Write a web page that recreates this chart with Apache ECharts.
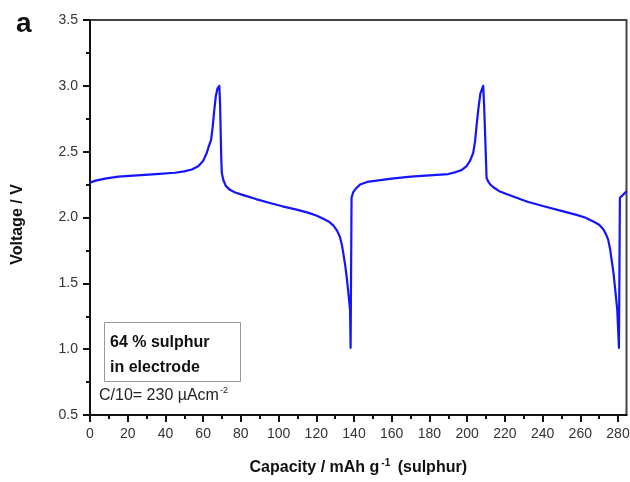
<!DOCTYPE html>
<html>
<head>
<meta charset="utf-8">
<script src="https://cdn.jsdelivr.net/npm/echarts@6/dist/echarts.min.js"></script>
<style>html,body{margin:0;padding:0;background:#fff}#c{width:630px;height:482px}</style>
</head>
<body>
<div id="c"></div>
<script>
// Capacity (mAh g-1) and voltage (V)
const capacity = [0,3,8,15,25,35,45,50,54,57.4,60,61.9,63,64.2,65,65.8,66.7,67.6,68.6,69.0,69.3,69.6,69.9,70.7,72,74.2,77,81.3,88,95.4,102,109.6,116,120,123.7,126.5,129,131,132.6,133.6,134.3,135.3,136.1,137,137.9,138.2,
  138.7,139.5,141,143.2,147,152,160,170,180,190,194,197,199.7,201.5,203.2,204.2,205,205.9,207,208.5,209,209.6,210.3,211.3,212.3,213.9,217,224.4,232,242.1,250,258,262.5,266.9,270,272.2,273.7,274.8,275.8,276.6,277.6,278.4,279.6,280.5,
  281,282.5,284.5];
const voltage = [2.265,2.28,2.295,2.31,2.32,2.33,2.34,2.35,2.365,2.39,2.43,2.49,2.54,2.59,2.68,2.80,2.92,2.98,3.00,2.85,2.65,2.45,2.34,2.285,2.24,2.21,2.19,2.17,2.14,2.11,2.085,2.06,2.035,2.015,1.99,1.97,1.94,1.90,1.85,1.79,1.73,1.64,1.55,1.43,1.30,1.01,
  2.15,2.19,2.22,2.25,2.27,2.28,2.295,2.31,2.32,2.33,2.345,2.36,2.39,2.43,2.49,2.58,2.70,2.82,2.94,3.00,2.85,2.60,2.30,2.27,2.25,2.23,2.20,2.16,2.12,2.08,2.05,2.02,2.00,1.97,1.945,1.91,1.87,1.83,1.76,1.68,1.58,1.47,1.30,1.01,
  2.15,2.17,2.20];
const xTicks = [0,20,40,60,80,100,120,140,160,180,200,220,240,260,280];
const xMinorTicks = [10,30,50,70,90,110,130,150,170,190,210,230,250,270];
const xRange = [0, 284.5];
const yRange = [0.5, 3.5];
const yInterval = 0.5;

const points = capacity.map((c, i) => [c, voltage[i]]);
const font = '"Liberation Sans", Arial, sans-serif';
const chart = echarts.init(document.getElementById('c'), null, {renderer: 'canvas'});
chart.setOption({
  animation: false,
  backgroundColor: '#fff',
  grid: {left: 90, right: 3.5, top: 20, bottom: 67, containLabel: false, outerBoundsMode: 'none',
         show: true, borderColor: '#444', borderWidth: 2, backgroundColor: 'transparent'},
  xAxis: [{
    type: 'value', min: xRange[0], max: xRange[1],
    name: '{a|Capacity / mAh g}{s|-1}{a| (sulphur)}',
    nameLocation: 'middle', nameGap: 43,
    nameTextStyle: {rich: {
      a: {fontFamily: font, fontWeight: 'bold', fontSize: 16, color: '#111', lineHeight: 20},
      s: {fontFamily: font, fontWeight: 'bold', fontSize: 10, color: '#111', verticalAlign: 'top', lineHeight: 20, padding: [0, 3, 10, 2]}
    }},
    axisLine: {show: true, lineStyle: {color: '#111', width: 2}},
    axisTick: {show: true, inside: false, length: 7, lineStyle: {color: '#111', width: 2}, customValues: xTicks},
    axisLabel: {show: true, margin: 12, fontFamily: font, fontSize: 14, color: '#333', customValues: xTicks},
    splitLine: {show: false}
  }, {
    type: 'value', min: xRange[0], max: xRange[1], position: 'bottom',
    axisLine: {show: false},
    axisTick: {show: true, inside: false, length: 4, lineStyle: {color: '#111', width: 2}, customValues: xMinorTicks},
    axisLabel: {show: false},
    splitLine: {show: false}
  }],
  yAxis: {
    type: 'value', min: yRange[0], max: yRange[1], interval: yInterval,
    name: 'Voltage / V', nameLocation: 'middle', nameGap: 64,
    nameTextStyle: {fontFamily: font, fontWeight: 'bold', fontSize: 16, color: '#111', padding: [0, 0, 0, -14]},
    axisLine: {show: true, lineStyle: {color: '#111', width: 2}},
    axisTick: {show: true, inside: false, length: 7, lineStyle: {color: '#111', width: 2}},
    minorTick: {show: true, splitNumber: 2, length: 4, lineStyle: {color: '#111', width: 2}},
    axisLabel: {margin: 12, fontFamily: font, fontSize: 14, color: '#333', formatter: v => v.toFixed(1)},
    splitLine: {show: false}
  },
  series: [{
    type: 'line', data: points, showSymbol: false, symbol: 'none',
    smooth: false, clip: true,
    lineStyle: {color: '#1414ff', width: 2.2, join: 'round'}
  }],
  graphic: [
    {type: 'text', left: 16, top: 10, style: {text: 'a', fontFamily: font, fontWeight: 'bold', fontSize: 28, fill: '#111'}},
    {type: 'rect', shape: {x: 104.5, y: 322.5, width: 136, height: 59}, style: {fill: '#fff', stroke: '#999', lineWidth: 1}},
    {type: 'text', x: 110, y: 330, style: {text: '64 % sulphur\nin electrode', fontFamily: font, fontWeight: 'bold', fontSize: 16, lineHeight: 25, fill: '#111'}},
    {type: 'text', x: 99, y: 386, style: {text: '{n|C/10= 230 µAcm}{s|-2}', rich: {
      n: {fontFamily: font, fontSize: 16, fill: '#222', lineHeight: 20},
      s: {fontFamily: font, fontSize: 9, fill: '#222', verticalAlign: 'top', lineHeight: 20, padding: [0, 0, 10, 1]}
    }}}
  ]
});
</script>
</body>
</html>
